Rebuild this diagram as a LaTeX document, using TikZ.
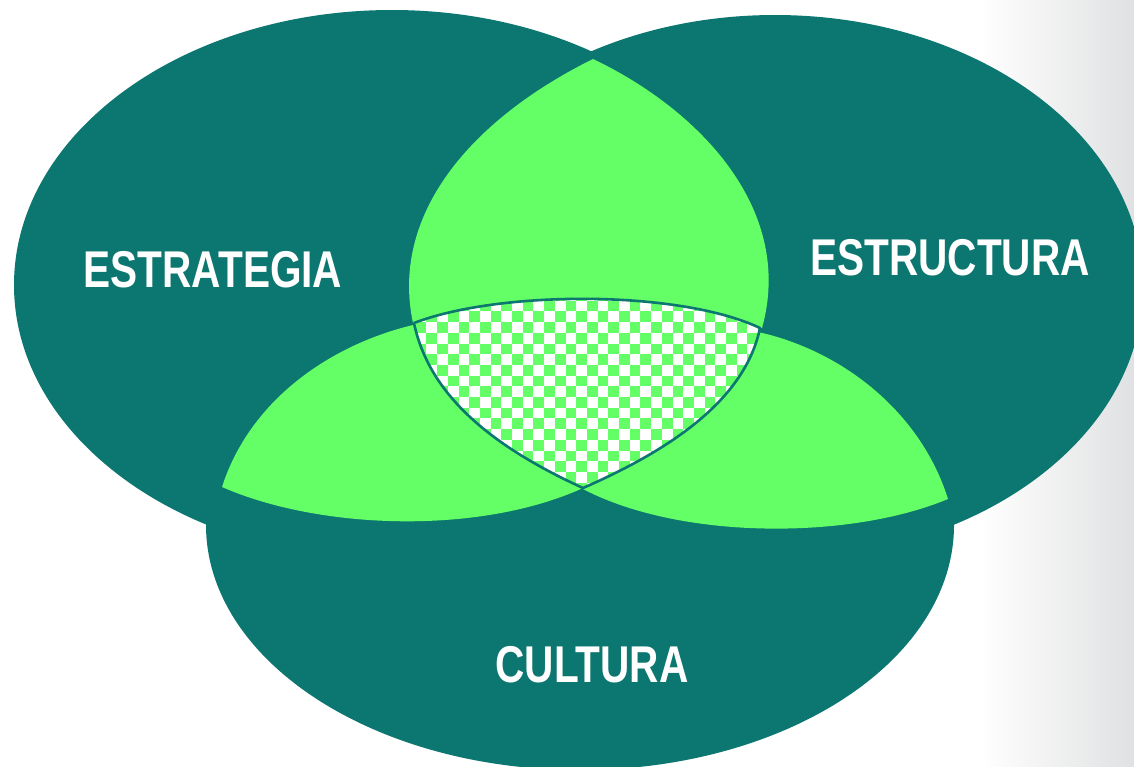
\documentclass[tikz,border=0pt]{standalone}
\usepackage{fontspec}
\setmainfont{Liberation Sans}
\usepackage{graphicx}
\definecolor{tealc}{HTML}{0C7670}
\definecolor{lgreen}{HTML}{64FF66}
\definecolor{photogray}{HTML}{E0E1E2}
\newcommand\narrowtxt[1]{\scalebox{0.785}[1]{#1}}
\begin{document}
\begin{tikzpicture}[x=1pt,y=-1pt,
  lbl/.style={text=white,font=\fontsize{51.7}{60}\selectfont\bfseries,inner sep=0pt,anchor=base},
  ell/.style={fill=tealc},
  lens/.style={fill=lgreen},
  rim/.style={draw=tealc,line width=2.6pt,line join=round}]
\useasboundingbox (0,0) rectangle (1134,766);
% faint photo background on the right
\fill[left color=white,right color=photogray] (980,0) rectangle (1134,766);
% three ellipses
\fill[ell] (392,285) ellipse [x radius=378,y radius=275];
\fill[ell] (775,287) ellipse [x radius=368,y radius=272];
\fill[ell] (580,525) ellipse [x radius=374,y radius=245];
% upper lens
\fill[lens] (413,323) .. controls (390,215) and (470,120) .. (593,59)
  .. controls (700,110) and (795,210) .. (762,328) -- cycle;
% lower-left lens
\fill[lens] (222,487) .. controls (250,400) and (330,345) .. (413,325)
  -- (583,488) .. controls (480,535) and (320,530) .. (222,487) -- cycle;
% lower-right lens
\fill[lens] (583,489) -- (758,332) .. controls (840,350) and (920,410) .. (948,499)
  .. controls (850,540) and (680,540) .. (583,489) -- cycle;
% central checkered region
\begin{scope}
\clip (414,323) .. controls (500,290) and (680,290) .. (760,328)
  .. controls (745,400) and (670,450) .. (583,488)
  .. controls (500,450) and (430,400) .. (414,323) -- cycle;
\fill[white] (400,280) rectangle (780,500);
\foreach \i in {0,...,35}{\foreach \j in {0,...,20}{
  \pgfmathtruncatemacro\chk{mod(\i+\j,2)}
  \ifnum\chk=0 \fill[lgreen] ({405+\i*10.7},{290+\j*10.7}) rectangle ++(10.7,10.7);\fi}}
\end{scope}
\path[rim] (414,323) .. controls (500,290) and (680,290) .. (760,328)
  .. controls (745,400) and (670,450) .. (583,488)
  .. controls (500,450) and (430,400) .. (414,323) -- cycle;
% labels
\node[lbl] (estrategia) at (213,287) {\narrowtxt{ESTRATEGIA}};
\node[lbl] (estructura) at (950,275) {\narrowtxt{ESTRUCTURA}};
\node[lbl] (cultura) at (592,682) {\narrowtxt{CULTURA}};
\end{tikzpicture}
\end{document}
